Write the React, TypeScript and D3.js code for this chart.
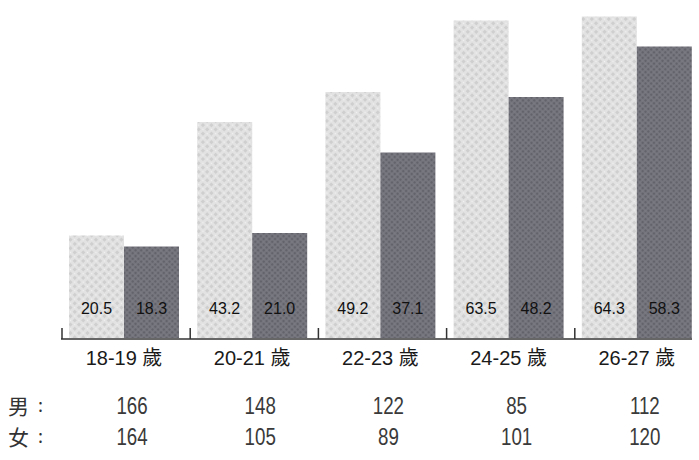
import * as d3 from "d3";

const ageGroups = ["18-19 歲", "20-21 歲", "22-23 歲", "24-25 歲", "26-27 歲"];
const series = ["男", "女"];
const maleRates = [20.5, 43.2, 49.2, 63.5, 64.3];
const femaleRates = [18.3, 21.0, 37.1, 48.2, 58.3];
const maleCounts = [166, 148, 122, 85, 112];
const femaleCounts = [164, 105, 89, 101, 120];

const W = 699;
const H = 460;
const baseY = 338;

const App = () => {
  const x0 = d3.scaleBand<string>().domain(ageGroups).range([62, 703]).padding(0);
  const x1 = d3.scaleBand<string>().domain(series).range([7, 117]).padding(0);
  const y = d3.scaleLinear().domain([0, 65]).range([baseY, 13]);

  const rates = [maleRates, femaleRates];
  const counts = [maleCounts, femaleCounts];
  const fills = ["url(#lightTex)", "url(#darkTex)"];
  const font = "'Liberation Sans', Arial, 'Noto Sans CJK TC', sans-serif";

  return (
    <svg width={W} height={H} style={{ position: "absolute", left: 0, top: 0 }}>
      <defs>
        <pattern id="lightTex" width="6" height="6" patternUnits="userSpaceOnUse" patternTransform="rotate(45)">
          <rect width="6" height="6" fill="#e2e2e2" />
          <rect x="0" y="0" width="3" height="3" fill="#cfcfcf" />
          <circle cx="4.5" cy="4.5" r="0.8" fill="#f2f2f2" />
        </pattern>
        <pattern id="darkTex" width="4" height="4" patternUnits="userSpaceOnUse" patternTransform="rotate(45)">
          <rect width="4" height="4" fill="#74747c" />
          <rect x="0" y="0" width="2" height="2" fill="#63636b" />
          <circle cx="3" cy="3" r="0.6" fill="#8a8a92" />
        </pattern>
      </defs>
      <rect width={W} height={H} fill="#ffffff" />

      {ageGroups.map((g, i) => (
        <g key={g} transform={`translate(${x0(g)},0)`}>
          {series.map((s, k) => {
            const v = rates[k][i];
            const bx = x1(s)!;
            const bw = x1.bandwidth();
            return (
              <g key={s}>
                <rect x={bx} y={y(v)} width={bw} height={baseY - y(v)} fill={fills[k]} />
                <text
                  x={bx + bw / 2}
                  y={314}
                  textAnchor="middle"
                  fontFamily={font}
                  fontSize={16}
                  fill="#111"
                >
                  {v.toFixed(1)}
                </text>
              </g>
            );
          })}
          <text
            x={62}
            y={365}
            textAnchor="middle"
            fontFamily={font}
            fontSize={20}
            fill="#1a1a1a"
          >
            {g}
          </text>
          {counts.map((row, k) => (
            <text
              key={k}
              transform={`translate(70,${414 + k * 31}) scale(0.78,1)`}
              textAnchor="middle"
              fontFamily={font}
              fontSize={24}
              fill="#3a3a3a"
            >
              {row[i]}
            </text>
          ))}
        </g>
      ))}

      {/* axis */}
      <line x1={61} x2={692} y1={baseY + 1} y2={baseY + 1} stroke="#333" strokeWidth={1.5} />
      {ageGroups.map((g) => (
        <line key={g} x1={x0(g)} x2={x0(g)} y1={baseY - 10} y2={baseY + 1} stroke="#333" strokeWidth={1.5} />
      ))}

      {series.map((s, k) => (
        <g key={s}>
          <text
            x={8}
            y={414 + k * 31}
            fontFamily="'Noto Sans CJK TC', sans-serif"
            fontSize={21}
            fill="#333"
          >
            {s}
          </text>
          <text
            x={38}
            y={412 + k * 31}
            fontFamily="'Noto Sans CJK TC', sans-serif"
            fontSize={18}
            fill="#333"
          >
            :
          </text>
        </g>
      ))}
    </svg>
  );
};

export default App;
